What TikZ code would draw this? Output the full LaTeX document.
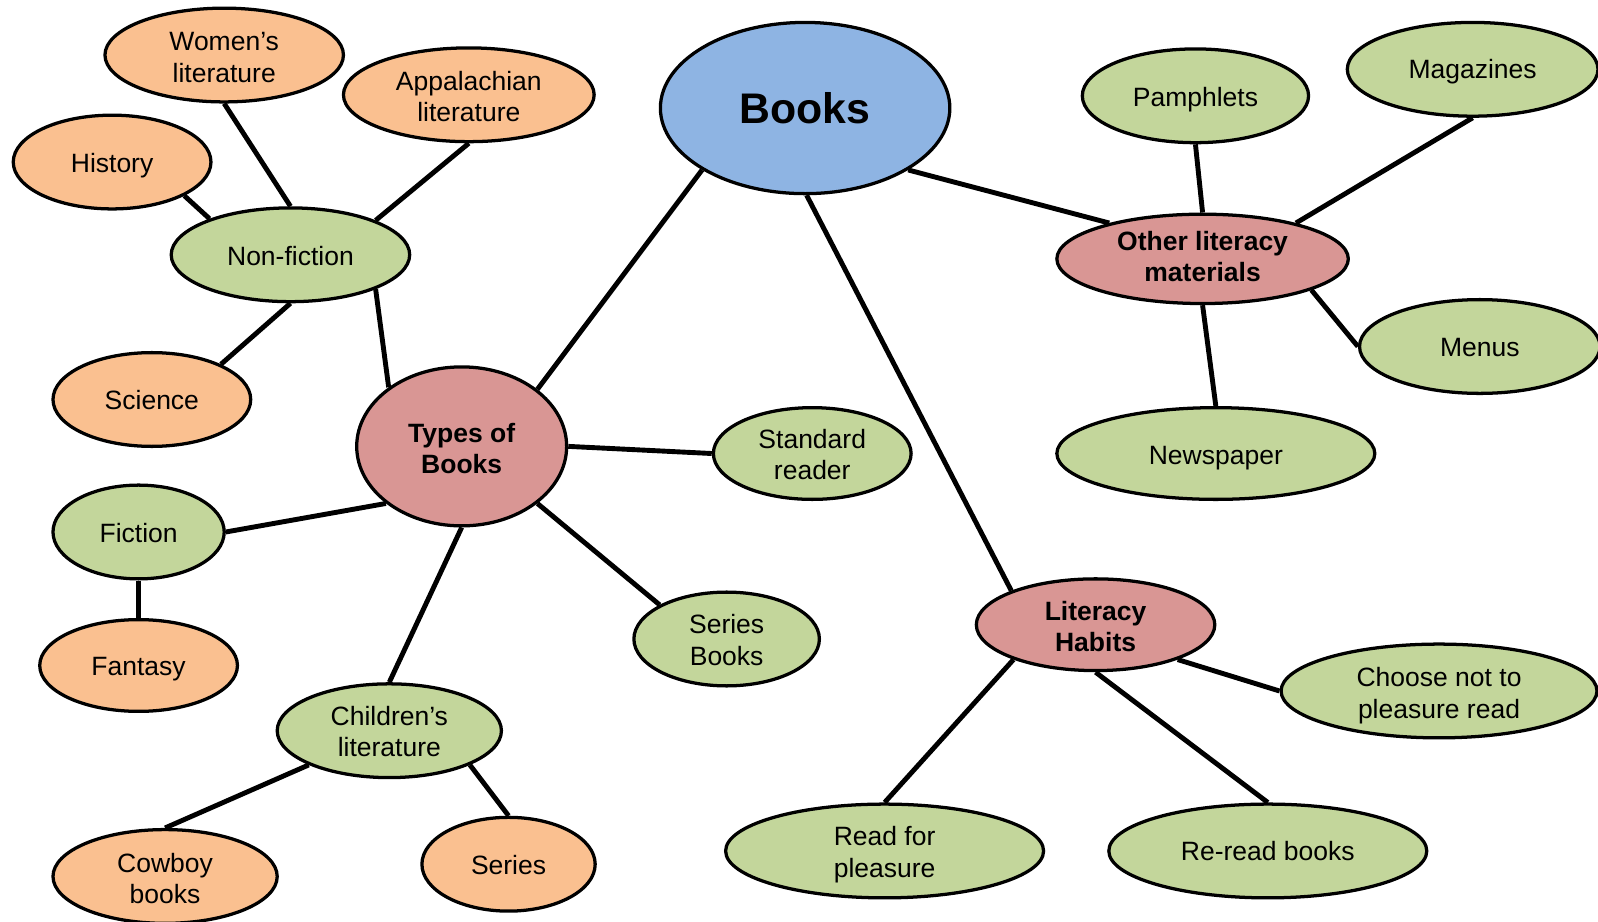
\documentclass[tikz,border=0pt]{standalone}
\usepackage{fontspec}
\setmainfont{Liberation Sans}
\usetikzlibrary{shapes.geometric,backgrounds}
\definecolor{leaf}{HTML}{C3D69B}
\definecolor{peach}{HTML}{FAC090}
\definecolor{rose}{HTML}{D99694}
\definecolor{sky}{HTML}{8EB4E3}
% label text, lowered a little inside its bubble without changing the box size
\newcommand\lbl[2][4pt]{\raisebox{-#1}[\height][\depth]{\begin{tabular}{@{}c@{}}#2\end{tabular}}}
\tikzset{
  bubble/.style={ellipse, draw=black, line width=3.2pt, inner sep=0pt,
    font=\fontsize{26}{31}\selectfont},
  green/.style={bubble, fill=leaf},
  orange/.style={bubble, fill=peach},
  hub/.style={bubble, fill=rose, font=\fontsize{26}{31}\selectfont\bfseries},
  sz/.style 2 args={minimum width=#1pt, minimum height=#2pt},
  link/.style={line width=4.8pt}
}
\begin{document}
\begin{tikzpicture}[x=1pt,y=-1pt]
\useasboundingbox (0,0) rectangle (1568,904);
% central topic
\node[bubble, fill=sky, sz={284}{168}, font=\fontsize{42}{48}\selectfont\bfseries] (books) at (790,106) {\lbl[6pt]{Books}};
% types of books branch
\node[hub, sz={206}{156}] (types) at (453,438) {\lbl[5pt]{Types of\\Books}};
\node[green, sz={234}{92}] (nonfic) at (285,250) {\lbl{Non-fiction}};
\node[orange, sz={234}{92}] (women) at (220,54) {\lbl[5pt]{Women’s\\literature}};
\node[orange, sz={246}{92}] (appal) at (460,93) {\lbl[5pt]{Appalachian\\literature}};
\node[orange, sz={194}{92}] (hist) at (110,159) {\lbl{History}};
\node[orange, sz={194}{92}] (sci) at (149,392) {\lbl{Science}};
\node[green, sz={194}{90}] (std) at (797,445) {\lbl{Standard\\reader}};
\node[green, sz={168}{92}] (fic) at (136,522) {\lbl{Fiction}};
\node[orange, sz={194}{90}] (fant) at (136,653) {\lbl{Fantasy}};
\node[green, sz={182}{92}] (serbk) at (713,627) {\lbl{Series\\Books}};
\node[green, sz={220}{92}] (child) at (382,717) {\lbl{Children’s\\literature}};
\node[orange, sz={220}{92}] (cowboy) at (162,860) {\lbl[5pt]{Cowboy\\books}};
\node[orange, sz={170}{92}] (series) at (499,848) {\lbl{Series}};
% other literacy materials branch
\node[hub, sz={286}{84}] (other) at (1180,254) {\lbl[1pt]{Other literacy\\materials}};
\node[green, sz={222}{92}] (pamph) at (1173,94) {\lbl{Pamphlets}};
\node[green, sz={246}{92}] (mags) at (1445,68) {\lbl[3pt]{Magazines}};
\node[green, sz={236}{92}] (menus) at (1452,340) {\lbl{Menus}};
\node[green, sz={312}{90}] (news) at (1193,445) {\lbl[5pt]{Newspaper}};
% literacy habits branch
\node[hub, sz={234}{90}] (habits) at (1075,613) {\lbl[5pt]{Literacy\\Habits}};
\node[green, sz={310}{92}] (choose) at (1412,678) {\lbl[5pt]{Choose not to\\pleasure read}};
\node[green, sz={312}{92}] (readp) at (868,835) {\lbl{Read for\\pleasure}};
\node[green, sz={312}{92}] (reread) at (1244,835) {\lbl[3pt]{Re-read books}};
% connectors
\begin{scope}[on background layer]
\draw[link] (books.211) -- (types.37);
\draw[link] (books.329) -- (other.159);
\draw[link] (books.271) -- (habits.158);
\draw[link] (types.141) -- (nonfic.338);
\draw[link] (types.0) -- (std.180);
\draw[link] (types.217) -- (fic.0);
\draw[link] (types.270) -- (child.90);
\draw[link] (types.323) -- (serbk.153);
\draw[link] (nonfic.90) -- (women.270);
\draw[link] (nonfic.156) -- (hist.335);
\draw[link] (nonfic.22) -- (appal.270);
\draw[link] (nonfic.270) -- (sci.27);
\draw[link] (fic.270) -- (fant.90);
\draw[link] (child.203) -- (cowboy.90);
\draw[link] (child.337) -- (series.90);
\draw[link] (other.90) -- (pamph.270);
\draw[link] (other.21) -- (mags.270);
\draw[link] (other.344) -- (menus.180);
\draw[link] (other.270) -- (news.90);
\draw[link] (habits.337) -- (choose.180);
\draw[link] (habits.203) -- (readp.90);
\draw[link] (habits.270) -- (reread.90);
\end{scope}
\end{tikzpicture}
\end{document}
